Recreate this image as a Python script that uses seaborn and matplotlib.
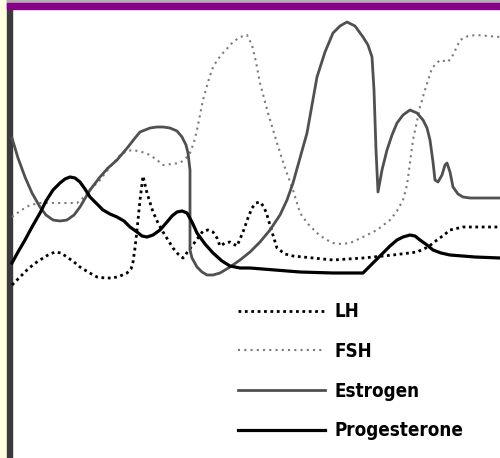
import pandas as pd
import matplotlib
matplotlib.use("Agg")
import matplotlib.pyplot as plt
import seaborn as sns

# values (x = position across the cycle, y = height from top)
lh_x = [12, 20, 27, 34, 40, 48, 55, 61, 67, 74, 80, 88, 97, 105, 113, 120, 127, 131, 133, 135, 137,
        140, 143, 147, 153, 158, 163, 168, 173, 178, 183, 189, 195, 203, 208, 213, 217, 220, 225, 230,
        237, 243, 248, 252, 256, 260, 264, 267, 272, 277, 285, 293, 313, 333, 363, 393, 417, 428, 437,
        444, 450, 463, 500]
lh_y = [285, 277, 270, 264, 260, 255, 252, 253, 257, 262, 267, 272, 277, 278, 278, 276, 273, 269, 262,
        248, 230, 200, 176, 193, 212, 223, 232, 240, 248, 254, 258, 250, 242, 231, 230, 232, 238, 246,
        243, 242, 246, 232, 218, 208, 203, 202, 207, 215, 232, 248, 254, 256, 258, 260, 258, 255, 252,
        247, 240, 235, 230, 227, 227]

fsh_x = [12, 20, 30, 40, 50, 64, 77, 84, 90, 100, 110, 120, 127, 133, 142, 150, 157, 163, 172, 180,
         186, 190, 194, 197, 203, 208, 213, 218, 223, 233, 240, 247, 252, 256, 260, 268, 277, 285, 293,
         300, 308, 317, 325, 333, 341, 350, 363, 377, 390, 397, 403, 407, 413, 420, 425, 432, 440, 448,
         453, 460, 468, 477, 488, 500]
fsh_y = [217, 211, 205, 203, 203, 203, 203, 197, 190, 180, 167, 155, 151, 150, 152, 155, 160, 165, 164,
         163, 158, 153, 142, 130, 100, 82, 67, 59, 53, 42, 37, 35, 45, 62, 83, 113, 143, 168, 190, 213,
         224, 233, 239, 243, 244, 243, 237, 230, 220, 211, 200, 185, 140, 107, 90, 68, 60, 62, 55, 40,
         36, 35, 36, 37]

est_x = [12, 18, 25, 32, 40, 46, 53, 60, 67, 74, 80, 90, 100, 108, 117, 128, 135, 140, 150, 157, 163,
         170, 177, 182, 186, 188, 190, 190, 192, 197, 202, 207, 213, 220, 230, 240, 250, 260, 270, 280,
         287, 293, 300, 307, 312, 317, 325, 333, 340, 347, 355, 363, 368, 372, 374, 376, 378, 382, 387,
         392, 397, 403, 410, 417, 423, 427, 430, 433, 435, 438, 442, 445, 447, 450, 453, 458, 463, 470,
         500]
est_y = [138, 158, 177, 193, 207, 215, 220, 221, 220, 215, 207, 190, 177, 168, 160, 147, 138, 132, 128,
         127, 127, 128, 131, 137, 145, 153, 170, 250, 258, 267, 272, 275, 275, 273, 267, 260, 252, 242,
         230, 215, 200, 183, 158, 133, 105, 77, 52, 33, 26, 22, 26, 37, 45, 57, 90, 150, 192, 170, 150,
         135, 123, 115, 110, 113, 120, 128, 140, 162, 180, 182, 175, 165, 163, 172, 187, 194, 197, 198,
         198]

prog_x = [12, 18, 25, 32, 40, 46, 53, 60, 65, 70, 75, 80, 85, 90, 97, 103, 110, 117, 124, 130, 137,
          142, 147, 153, 160, 167, 172, 177, 182, 187, 192, 197, 205, 213, 222, 230, 240, 250, 275,
          300, 333, 363, 370, 377, 383, 390, 397, 403, 410, 415, 420, 427, 433, 441, 450, 475, 500]
prog_y = [263, 252, 240, 227, 213, 201, 190, 183, 179, 177, 178, 182, 189, 197, 204, 210, 214, 217, 221,
          227, 232, 236, 237, 235, 230, 222, 216, 212, 211, 213, 222, 233, 244, 253, 261, 266, 268, 268,
          270, 272, 273, 273, 266, 259, 253, 246, 240, 237, 235, 236, 240, 245, 250, 253, 255, 257, 258]

labels = ["LH", "FSH", "Estrogen", "Progesterone"]

fig = plt.figure(figsize=(5, 4.58), dpi=100)
ax = fig.add_axes([0, 0, 1, 1])
ax.set_xlim(0, 500)
ax.set_ylim(458, 0)
ax.axis("off")

# page frame: cream strip, dark rule on the left, purple band on top
ax.axvspan(0, 7, color="#ffffe0", zorder=0)
ax.axvspan(7, 12, color="#3a3a3a", zorder=1)
ax.axhspan(0, 1.5, xmin=7 / 500, color="#b0b0b0", zorder=1)
ax.axhspan(3, 8.5, xmin=7 / 500, color="#880088", zorder=1)

series = [
    (lh_x, lh_y, dict(color="black", lw=2.0, ls=(0, (1, 1.3)))),
    (fsh_x, fsh_y, dict(color="#7a7a7a", lw=1.5, ls=(0, (1, 2)))),
    (est_x, est_y, dict(color="#505050", lw=2.0, ls="-")),
    (prog_x, prog_y, dict(color="black", lw=2.3, ls="-")),
]
for (xs, ys, st), name in zip(series, labels):
    df = pd.DataFrame({"x": xs, "y": ys})
    sns.lineplot(data=df, x="x", y="y", ax=ax, sort=False, estimator=None,
                 label=name, color=st["color"], linewidth=st["lw"], linestyle=st["ls"])

leg = ax.legend(loc="upper left", bbox_to_anchor=(229 / 500, 1 - 293 / 458),
                frameon=False, borderpad=0, handlelength=4.6, handletextpad=0.55,
                labelspacing=1.1,
                prop=dict(family="DejaVu Sans", weight="bold", stretch="condensed", size=13.5))
for t in leg.get_texts():
    t.set_color("black")

fig.savefig("out.png", dpi=100)
